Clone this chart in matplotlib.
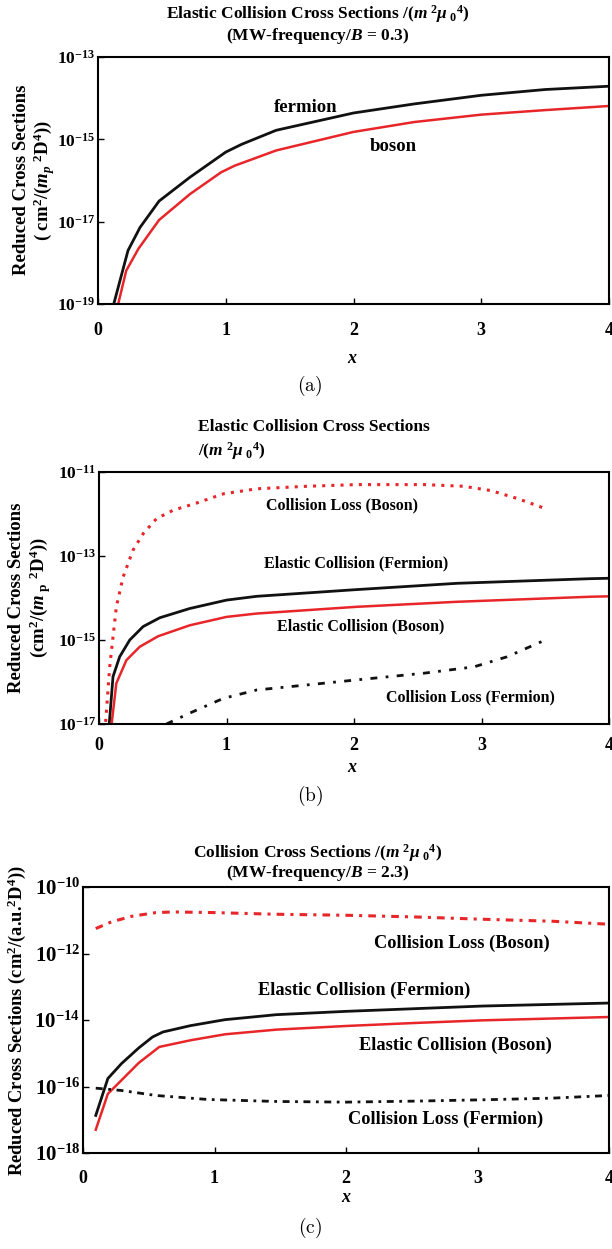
import numpy as np
import matplotlib
matplotlib.use('Agg')
import matplotlib.pyplot as plt
from matplotlib.ticker import FixedLocator, FixedFormatter, NullLocator

plt.rcParams['font.family'] = ['Liberation Serif', 'DejaVu Serif']
plt.rcParams['font.weight'] = 'bold'
plt.rcParams['mathtext.fontset'] = 'custom'
plt.rcParams['mathtext.rm'] = 'Liberation Serif:bold'
plt.rcParams['mathtext.it'] = 'Liberation Serif:italic:bold'
plt.rcParams['mathtext.bf'] = 'Liberation Serif:bold'

# ---------------- data (log10 of reduced cross sections) ----------------
# panel (a)
a_fermion_x = [0.119, 0.235, 0.329, 0.478, 0.72, 1.0, 1.125, 1.395, 2.0, 2.475, 3.0, 3.5, 4.0]
a_fermion_log = [-19.05, -17.70, -17.14, -16.50, -15.92, -15.31, -15.12, -14.78, -14.36, -14.14, -13.93, -13.79, -13.71]
a_boson_x = [0.154, 0.221, 0.316, 0.478, 0.72, 0.964, 1.07, 1.395, 2.0, 2.475, 3.0, 3.5, 4.0]
a_boson_log = [-19.05, -18.19, -17.66, -16.96, -16.33, -15.80, -15.64, -15.27, -14.82, -14.58, -14.40, -14.29, -14.19]

# panel (b)
b_loss_boson_x = [0.052, 0.084, 0.136, 0.189, 0.267, 0.346, 0.451, 0.582, 0.765, 0.975, 1.237, 1.63, 2.02, 2.55, 2.86, 3.07, 3.28, 3.50]
b_loss_boson_log = [-16.95, -15.64, -14.21, -13.50, -12.86, -12.47, -12.11, -11.91, -11.74, -11.52, -11.40, -11.34, -11.30, -11.30, -11.34, -11.44, -11.63, -11.87]
b_el_fermion_x = [0.079, 0.11, 0.162, 0.241, 0.346, 0.477, 0.712, 1.0, 1.236, 2.02, 2.81, 3.855, 4.0]
b_el_fermion_log = [-17.05, -15.87, -15.40, -15.00, -14.68, -14.47, -14.25, -14.05, -13.96, -13.80, -13.65, -13.54, -13.53]
b_el_boson_x = [0.097, 0.136, 0.215, 0.32, 0.464, 0.712, 1.0, 1.237, 2.02, 2.81, 3.855, 4.0]
b_el_boson_log = [-17.05, -16.03, -15.48, -15.16, -14.91, -14.65, -14.45, -14.37, -14.21, -14.09, -13.97, -13.96]
b_loss_fermion_x = [0.529, 0.712, 0.975, 1.237, 1.63, 2.02, 2.55, 2.94, 3.20, 3.50]
b_loss_fermion_log = [-17.0, -16.74, -16.39, -16.19, -16.07, -15.95, -15.79, -15.64, -15.40, -15.00]

# panel (c)
c_loss_boson_x = [0.097, 0.215, 0.372, 0.555, 0.686, 1.0, 1.47, 2.0, 2.52, 3.04, 3.57, 4.0]
c_loss_boson_log = [-11.25, -11.05, -10.88, -10.77, -10.75, -10.77, -10.82, -10.85, -10.90, -10.97, -11.03, -11.12]
c_el_fermion_x = [0.097, 0.189, 0.293, 0.424, 0.529, 0.608, 0.817, 1.08, 1.47, 2.0, 2.52, 3.04, 4.0]
c_el_fermion_log = [-16.87, -15.76, -15.31, -14.84, -14.51, -14.36, -14.17, -13.99, -13.84, -13.74, -13.66, -13.58, -13.49]
c_el_boson_x = [0.097, 0.189, 0.293, 0.424, 0.58, 0.817, 1.08, 1.47, 2.0, 2.52, 3.04, 4.0]
c_el_boson_log = [-17.30, -16.22, -15.81, -15.29, -14.81, -14.61, -14.43, -14.29, -14.18, -14.09, -14.01, -13.91]
c_loss_fermion_x = [0.097, 0.293, 0.555, 0.948, 1.47, 2.0, 2.52, 3.04, 3.57, 4.0]
c_loss_fermion_log = [-16.05, -16.12, -16.27, -16.39, -16.45, -16.47, -16.44, -16.40, -16.35, -16.27]

x_ticks = [0, 1, 2, 3, 4]
x_ticklabels = ['0', '1', '2', '3', '4']
a_yticks = [-19, -17, -15, -13]
b_yticks = [-17, -15, -13, -11]
c_yticks = [-18, -16, -14, -12, -10]

RED = '#e8262a'
BLACK = '#111111'

W, H = 612, 1249
fig = plt.figure(figsize=(W / 100, H / 100), dpi=100)


def px_axes(left, top, right, bottom):
    return fig.add_axes([left / W, 1 - bottom / H, (right - left) / W, (bottom - top) / H])


def style_axes(ax, yticks, ylim, ytick_fs, xtick_fs, xpad):
    ax.set_yscale('log')
    ax.set_xlim(0, 4)
    ax.set_ylim(10.0 ** ylim[0], 10.0 ** ylim[1])
    ax.xaxis.set_major_locator(FixedLocator(x_ticks))
    ax.xaxis.set_major_formatter(FixedFormatter(x_ticklabels))
    ax.xaxis.set_minor_locator(NullLocator())
    ax.yaxis.set_major_locator(FixedLocator([10.0 ** v for v in yticks]))
    ax.yaxis.set_major_formatter(FixedFormatter(['$10^{%d}$' % v for v in yticks]))
    ax.yaxis.set_minor_locator(NullLocator())
    ax.tick_params(axis='both', direction='in', length=4, width=1.0)
    ax.tick_params(axis='x', pad=xpad, labelsize=xtick_fs)
    ax.tick_params(axis='y', pad=2, labelsize=ytick_fs)
    for lab in ax.get_xticklabels():
        lab.set_fontweight('bold')
    for s in ax.spines.values():
        s.set_linewidth(1.5)


def p10(v):
    return [10.0 ** t for t in v]


title_fs = 12.5
MU = r'/($m^{\ 2}\mu_{\ 0}{}^{4}$)'
# ---------------- panel (a) ----------------
axa = px_axes(98, 57, 609, 304)
axa.plot(a_fermion_x, p10(a_fermion_log), color=BLACK, lw=2.0)
axa.plot(a_boson_x, p10(a_boson_log), color=RED, lw=1.8)
style_axes(axa, a_yticks, (-19, -13), 12.5, 13, 13)
axa.text(1.625, 10 ** -14.22, 'fermion', ha='center', va='center', fontsize=13.5, fontweight='bold')
axa.text(2.31, 10 ** -15.17, 'boson', ha='center', va='center', fontsize=13.5, fontweight='bold')
fig.text(318 / W, 1 - 14 / H, 'Elastic Collision Cross Sections ' + MU,
         ha='center', va='center', fontsize=title_fs, fontweight='bold')
fig.text(318 / W, 1 - 36 / H, r'(MW-frequency/$B$ = 0.3)',
         ha='center', va='center', fontsize=title_fs, fontweight='bold')
fig.text(21 / W, 1 - 180 / H, 'Reduced Cross Sections', rotation=90, ha='center', va='center',
         fontsize=13.5, fontweight='bold')
fig.text(44 / W, 1 - 180 / H, r'( cm$^{2}$/($m_{p}$ $^{2}$D$^{4}$))', rotation=90, ha='center', va='center',
         fontsize=13.5, fontweight='bold')
fig.text(352 / W, 1 - 358 / H, r'$x$', ha='center', va='center', fontsize=13)
fig.text(310 / W, 1 - 386 / H, r'$\mathrm{(a)}$', ha='center', va='center', fontsize=14, math_fontfamily='cm')

# ---------------- panel (b) ----------------
axb = px_axes(99, 472, 609, 724)
axb.plot(b_loss_boson_x, p10(b_loss_boson_log), color=RED, lw=2.2, linestyle=(0, (1.0, 2.0)))
axb.plot(b_el_fermion_x, p10(b_el_fermion_log), color=BLACK, lw=2.0)
axb.plot(b_el_boson_x, p10(b_el_boson_log), color=RED, lw=1.8)
axb.plot(b_loss_fermion_x, p10(b_loss_fermion_log), color=BLACK, lw=2.0, linestyle=(0, (2.5, 3.0, 1.0, 3.0)))
style_axes(axb, b_yticks, (-17, -11), 12.5, 13, 9)
axb.text(1.905, 10 ** -11.79, 'Collision Loss (Boson)', ha='center', va='center', fontsize=11.5, fontweight='bold')
axb.text(2.02, 10 ** -13.18, 'Elastic Collision (Fermion)', ha='center', va='center', fontsize=11.5, fontweight='bold')
axb.text(2.05, 10 ** -14.67, 'Elastic Collision (Boson)', ha='center', va='center', fontsize=11.5, fontweight='bold')
axb.text(2.91, 10 ** -16.36, 'Collision Loss (Fermion)', ha='center', va='center', fontsize=11.5, fontweight='bold')
fig.text(198 / W, 1 - 427 / H, 'Elastic Collision Cross Sections', ha='left', va='center',
         fontsize=title_fs, fontweight='bold')
fig.text(198 / W, 1 - 451 / H, MU, ha='left', va='center',
         fontsize=title_fs, fontweight='bold')
fig.text(17 / W, 1 - 598 / H, 'Reduced Cross Sections', rotation=90, ha='center', va='center',
         fontsize=13.5, fontweight='bold')
fig.text(40 / W, 1 - 598 / H, r'(cm$^{2}$/($m_{\mathrm{\ p}}$ $^{2}$D$^{4}$))', rotation=90, ha='center', va='center',
         fontsize=13.5, fontweight='bold')
fig.text(352 / W, 1 - 768 / H, r'$x$', ha='center', va='center', fontsize=13)
fig.text(310 / W, 1 - 796 / H, r'$\mathrm{(b)}$', ha='center', va='center', fontsize=14, math_fontfamily='cm')

# ---------------- panel (c) ----------------
axc = px_axes(83, 887, 609, 1153)
axc.plot(c_loss_boson_x, p10(c_loss_boson_log), color=RED, lw=2.2, linestyle=(0, (2.5, 2.0, 1.0, 2.0)))
axc.plot(c_el_fermion_x, p10(c_el_fermion_log), color=BLACK, lw=2.0)
axc.plot(c_el_boson_x, p10(c_el_boson_log), color=RED, lw=1.8)
axc.plot(c_loss_fermion_x, p10(c_loss_fermion_log), color=BLACK, lw=2.0, linestyle=(0, (2.5, 2.0, 1.0, 2.0)))
style_axes(axc, c_yticks, (-18, -10), 15, 13, 12)
axc.text(2.88, 10 ** -11.68, 'Collision Loss (Boson)', ha='center', va='center', fontsize=13.2, fontweight='bold')
axc.text(2.14, 10 ** -13.11, 'Elastic Collision (Fermion)', ha='center', va='center', fontsize=13.2, fontweight='bold')
axc.text(2.83, 10 ** -14.76, 'Elastic Collision (Boson)', ha='center', va='center', fontsize=13.2, fontweight='bold')
axc.text(2.76, 10 ** -17.0, 'Collision Loss (Fermion)', ha='center', va='center', fontsize=13.2, fontweight='bold')
fig.text(318 / W, 1 - 853 / H, 'Collision Cross Sections ' + MU, ha='center', va='center',
         fontsize=title_fs, fontweight='bold')
fig.text(318 / W, 1 - 873 / H, r'(MW-frequency/$B$ = 2.3)', ha='center', va='center',
         fontsize=title_fs, fontweight='bold')
fig.text(17 / W, 1 - 1021 / H, r'Reduced Cross Sections (cm$^{2}$/(a.u.$^{2}$D$^{4}$))', rotation=90,
         ha='center', va='center', fontsize=13.3, fontweight='bold')
fig.text(346 / W, 1 - 1198 / H, r'$x$', ha='center', va='center', fontsize=13)
fig.text(310 / W, 1 - 1228 / H, r'$\mathrm{(c)}$', ha='center', va='center', fontsize=14, math_fontfamily='cm')

fig.savefig('out.png', dpi=100)
